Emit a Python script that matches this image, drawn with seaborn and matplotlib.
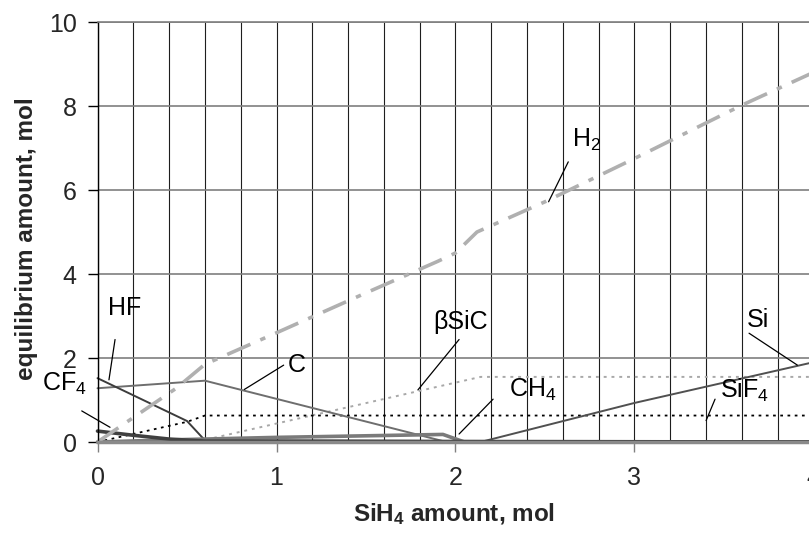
import numpy as np
import pandas as pd
import matplotlib
matplotlib.use("Agg")
import matplotlib.pyplot as plt
import seaborn as sns

# ---------------- data ----------------
h2_x = [0, 0.44, 0.6, 1.0, 1.5, 1.9, 2.0, 2.12, 2.5, 3.0, 3.6, 4.0]
h2_y = [0, 1.28, 1.85, 2.6, 3.55, 4.3, 4.5, 5.0, 5.72, 6.75, 8.02, 8.8]

c_x = [0, 0.6, 1.95, 4.0]
c_y = [1.28, 1.46, 0.0, 0.0]

hf_x = [0, 0.5, 0.6, 4.0]
hf_y = [1.52, 0.5, 0.04, 0.0]

cf4_x = [0, 0.2, 0.4, 0.6, 4.0]
cf4_y = [0.26, 0.16, 0.07, 0.02, 0.0]

ch4_x = [0, 0.4, 0.6, 1.0, 1.93, 2.05, 4.0]
ch4_y = [0.0, 0.05, 0.07, 0.11, 0.18, 0.0, 0.0]

sic_x = [0, 0.6, 2.14, 4.0]
sic_y = [0.0, 0.05, 1.55, 1.55]

sif4_x = [0, 0.5, 0.6, 4.0]
sif4_y = [0.0, 0.48, 0.63, 0.63]

si_x = [0, 2.14, 3.0, 4.0]
si_y = [0.0, 0.0, 0.93, 1.9]

x_ticks = [0, 1, 2, 3, 4]
y_ticks = [0, 2, 4, 6, 8, 10]

# ---------------- styling ----------------
sns.set_style("white")
plt.rcParams['font.family'] = ['Liberation Sans', 'DejaVu Sans']
plt.rcParams['mathtext.fontset'] = 'custom'
plt.rcParams['mathtext.rm'] = 'Liberation Sans'
plt.rcParams['mathtext.it'] = 'Liberation Sans:italic'
plt.rcParams['mathtext.bf'] = 'Liberation Sans:bold'

series = [
    ("SiC", sic_x, sic_y, dict(color="#a8a8a8", lw=1.4, linestyle=(0, (1.5, 2.5)))),
    ("SiF4", sif4_x, sif4_y, dict(color="#000000", lw=1.3, linestyle=(0, (1.5, 2.5)))),
    ("C", c_x, c_y, dict(color="#6e6e6e", lw=1.4, linestyle="-")),
    ("HF", hf_x, hf_y, dict(color="#3c3c3c", lw=1.4, linestyle="-")),
    ("Si", si_x, si_y, dict(color="#505050", lw=1.4, linestyle="-")),
    ("CH4", ch4_x, ch4_y, dict(color="#7a7a7a", lw=2.6, linestyle="-")),
    ("CF4", cf4_x, cf4_y, dict(color="#404040", lw=2.6, linestyle="-")),
    ("H2", h2_x, h2_y, dict(color="#b0b0b0", lw=2.6, linestyle=(0, (7, 3, 1.5, 3)))),
]

fig = plt.figure(figsize=(8.09, 5.37), dpi=100)
ax = fig.add_axes([97.5 / 809, 95 / 537, 716 / 809, 420 / 537])

for name, xs, ys, st in series:
    df = pd.DataFrame({"x": xs, "y": ys})
    sns.lineplot(data=df, x="x", y="y", ax=ax, estimator=None, sort=False,
                 legend=False, clip_on=False, **st)

ax.set_xlim(0, 4)
ax.set_ylim(0, 10)
ax.set_xticks(x_ticks)
ax.set_xticklabels([str(v) for v in x_ticks])
ax.set_yticks(y_ticks)
ax.set_yticklabels([str(v) for v in y_ticks])
ax.set_xticks(np.arange(0, 4.01, 0.2), minor=True)

ax.grid(which="both", axis="x", color="#1e1e1e", lw=0.8)
ax.grid(which="major", axis="y", color="#7f7f7f", lw=1.2)
ax.set_axisbelow(True)

ax.tick_params(axis="x", which="major", length=7, width=1.0, color="#808080",
               direction="out", pad=10, labelsize=18)
ax.tick_params(axis="x", which="minor", length=0)
ax.tick_params(axis="y", which="major", length=7, width=1.0, color="#000000",
               direction="out", pad=8, labelsize=18, left=True)
ax.tick_params(axis="x", bottom=True)

ax.spines["right"].set_visible(False)
ax.spines["top"].set_color("#7f7f7f")
ax.spines["top"].set_linewidth(1.2)
ax.spines["left"].set_color("#000000")
ax.spines["left"].set_linewidth(1.0)
ax.spines["bottom"].set_color("#8a8a8a")
ax.spines["bottom"].set_linewidth(2.5)

ax.set_xlabel(r"SiH$_\mathbf{4}$ amount, mol", fontsize=17.5, fontweight="bold")
ax.set_ylabel("equilibrium amount, mol", fontsize=17.5, fontweight="bold")
ax.xaxis.set_label_coords(0.498, -0.14)
ax.yaxis.set_label_coords(-0.083, 0.485)

# labels with leader lines
labels = [
    ("H$_2$", (2.73, 7.2), "center", (2.63, 6.67), (2.52, 5.72)),
    ("HF", (0.154, 3.2), "center", (0.098, 2.44), (0.064, 1.48)),
    ("C", (1.065, 1.83), "left", (1.04, 1.83), (0.82, 1.25)),
    ("CF$_4$", (-0.311, 1.38), "left", (-0.088, 0.74), (0.07, 0.35)),
    ("βSiC", (2.03, 2.85), "center", (2.02, 2.44), (1.79, 1.24)),
    ("CH$_4$", (2.30, 1.24), "left", (2.21, 1.02), (2.02, 0.19)),
    ("Si", (3.69, 2.9), "center", (3.64, 2.59), (3.91, 1.83)),
    ("SiF$_4$", (3.48, 1.24), "left", (3.45, 1.02), (3.40, 0.51)),
]
for txt, pos, ha, p0, p1 in labels:
    ax.text(pos[0], pos[1], txt, ha=ha, va="center", fontsize=18,
            color="black", clip_on=False)
    ax.annotate("", xy=p1, xytext=p0,
                arrowprops=dict(arrowstyle="-", lw=0.9, color="black",
                                shrinkA=0, shrinkB=0),
                annotation_clip=False)

fig.savefig("out.png", dpi=100)
